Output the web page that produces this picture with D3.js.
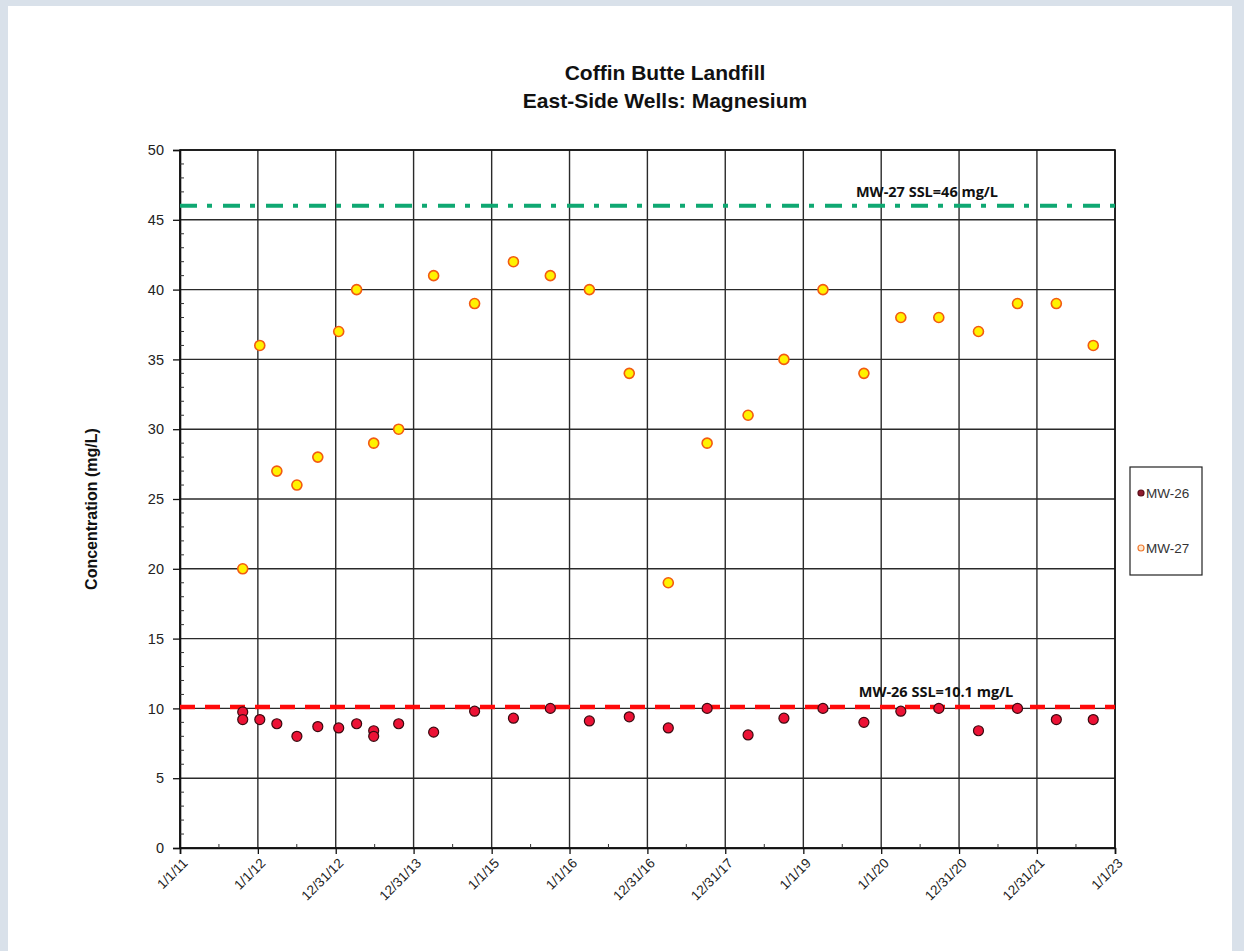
<!DOCTYPE html>
<html>
<head>
<meta charset="utf-8">
<script src="https://cdn.jsdelivr.net/npm/d3@7/dist/d3.min.js"></script>
<style>
  html, body { margin: 0; padding: 0; background: #d9e1ea; }
  svg { display: block; }
  text { font-family: "Liberation Sans", Arial, sans-serif; }
</style>
</head>
<body>
<script>
// Sampling dates shared by both wells
const sampleDates = [
  "2011-10-22", "2012-01-10", "2012-03-30", "2012-07-02", "2012-10-08",
  "2013-01-14", "2013-04-08", "2013-06-27", "2013-10-22", "2014-04-04",
  "2014-10-13", "2015-04-13", "2015-10-03", "2016-04-03", "2016-10-07",
  "2017-04-08", "2017-10-07", "2018-04-17", "2018-10-02", "2019-04-03",
  "2019-10-12", "2020-04-02", "2020-09-27", "2021-04-01", "2021-10-01",
  "2022-04-01", "2022-09-21"
];

// MW-27 magnesium (mg/L)
const mw27Values = [
  20, 36, 27, 26, 28, 37, 40, 29, 30, 41,
  39, 42, 41, 40, 34, 19, 29, 31, 35, 40,
  34, 38, 38, 37, 39, 39, 36
];

// MW-26 magnesium (mg/L); a few dates have duplicate samples
const mw26Dates = [
  "2011-10-22", "2011-10-22", "2012-01-10", "2012-03-30", "2012-07-02",
  "2012-10-08", "2013-01-14", "2013-04-08", "2013-06-27", "2013-06-27",
  "2013-10-22", "2014-04-04", "2014-10-13", "2015-04-13", "2015-10-03",
  "2016-04-03", "2016-10-07", "2017-04-08", "2017-10-07", "2018-04-17",
  "2018-10-02", "2019-04-03", "2019-10-12", "2020-04-02", "2020-09-27",
  "2021-04-01", "2021-10-01", "2022-04-01", "2022-09-21"
];
const mw26Values = [
  9.75, 9.2, 9.2, 8.9, 8.0,
  8.7, 8.6, 8.9, 8.4, 8.0,
  8.9, 8.3, 9.8, 9.3, 10.0,
  9.1, 9.4, 8.6, 10.0, 8.1,
  9.3, 10.0, 9.0, 9.8, 10.0,
  8.4, 10.0, 9.2, 9.2
];

// Screening levels
const ssl27 = 46;
const ssl26 = 10.1;

// Axis tick labels
const xTickLabels = [
  "1/1/11", "1/1/12", "12/31/12", "12/31/13", "1/1/15", "1/1/16", "12/31/16",
  "12/31/17", "1/1/19", "1/1/20", "12/31/20", "12/31/21", "1/1/23"
];
const yTicks = [0, 5, 10, 15, 20, 25, 30, 35, 40, 45, 50];

const W = 1244, H = 951;
const plot = { left: 180, right: 1115, top: 150, bottom: 848 };

const parseIso = d3.timeParse("%Y-%m-%d");
const parseTick = d3.timeParse("%m/%d/%y");
const xTickDates = xTickLabels.map(parseTick);

const x = d3.scaleTime()
  .domain([xTickDates[0], xTickDates[xTickDates.length - 1]])
  .range([plot.left, plot.right]);
const y = d3.scaleLinear().domain([0, 50]).range([plot.bottom, plot.top]);

const svg = d3.select("body").append("svg").attr("width", W).attr("height", H);

// white panel
svg.append("rect").attr("x", 8).attr("y", 6).attr("width", 1224).attr("height", H - 6)
  .attr("fill", "#ffffff");

// title
const title = svg.append("text").attr("text-anchor", "middle")
  .attr("font-weight", "bold").attr("font-size", 21).attr("fill", "#111");
title.append("tspan").attr("x", 665).attr("y", 80).text("Coffin Butte Landfill");
title.append("tspan").attr("x", 665).attr("y", 108).text("East-Side Wells: Magnesium");

// grid lines
const grid = svg.append("g").attr("stroke", "#2a2a2a").attr("stroke-width", 1.4);
grid.selectAll("line.h").data(yTicks).join("line")
  .attr("x1", plot.left).attr("x2", plot.right)
  .attr("y1", d => y(d)).attr("y2", d => y(d));
grid.selectAll("line.v").data(xTickDates).join("line")
  .attr("y1", plot.top).attr("y2", plot.bottom)
  .attr("x1", d => x(d)).attr("x2", d => x(d));

// plot frame
svg.append("rect").attr("x", plot.left).attr("y", plot.top)
  .attr("width", plot.right - plot.left).attr("height", plot.bottom - plot.top)
  .attr("fill", "none").attr("stroke", "#111").attr("stroke-width", 1.6);

// y axis: major ticks outside, minor ticks inside
const yAxis = d3.axisLeft(y).tickValues(yTicks).tickSize(7).tickPadding(9);
const gy = svg.append("g").attr("transform", `translate(${plot.left},0)`).call(yAxis);
gy.select(".domain").attr("stroke", "#111").attr("stroke-width", 1.6);
gy.selectAll(".tick line").attr("stroke", "#111").attr("stroke-width", 1.3);
gy.selectAll(".tick text").attr("font-size", 14.5).attr("fill", "#222")
  .style("font-family", "'Liberation Sans', Arial, sans-serif");
const yMinor = d3.range(0, 51).filter(v => v % 5 !== 0);
svg.append("g").selectAll("line").data(yMinor).join("line")
  .attr("x1", plot.left).attr("x2", plot.left + 4)
  .attr("y1", d => y(d)).attr("y2", d => y(d))
  .attr("stroke", "#333").attr("stroke-width", 1);

// x axis: major ticks outside, minor ticks at mid-interval inside
const xAxis = d3.axisBottom(x).tickValues(xTickDates).tickSize(6)
  .tickFormat((d, i) => xTickLabels[i]);
const gx = svg.append("g").attr("transform", `translate(0,${plot.bottom})`).call(xAxis);
gx.select(".domain").attr("stroke", "#111").attr("stroke-width", 1.6);
gx.selectAll(".tick line").attr("stroke", "#111").attr("stroke-width", 1.3);
gx.selectAll(".tick text")
  .attr("font-size", 13.5).attr("fill", "#222")
  .style("font-family", "'Liberation Sans', Arial, sans-serif")
  .attr("text-anchor", "end")
  .attr("dy", null)
  .attr("y", 0)
  .attr("transform", "translate(8,16) rotate(-45)");
const xMinor = d3.pairs(xTickDates).map(([a, b]) => new Date((+a + +b) / 2));
svg.append("g").selectAll("line").data(xMinor).join("line")
  .attr("x1", d => x(d)).attr("x2", d => x(d))
  .attr("y1", plot.bottom).attr("y2", plot.bottom - 4)
  .attr("stroke", "#333").attr("stroke-width", 1);

// y axis title
svg.append("text")
  .attr("transform", `translate(97,${(plot.top + plot.bottom) / 2 + 10}) rotate(-90)`)
  .attr("text-anchor", "middle").attr("font-weight", "bold").attr("font-size", 16)
  .attr("fill", "#111").text("Concentration (mg/L)");

// screening level lines
svg.append("line")
  .attr("x1", plot.left).attr("x2", plot.right)
  .attr("y1", y(ssl27)).attr("y2", y(ssl27))
  .attr("stroke", "#0fa872").attr("stroke-width", 4)
  .attr("stroke-dasharray", "17 10 5 11");
svg.append("text").attr("x", 927).attr("y", y(ssl27) - 9)
  .attr("text-anchor", "middle").attr("font-weight", "bold").attr("font-size", 14.5)
  .attr("fill", "#111").style("font-family", "'Open Sans', 'Liberation Sans', sans-serif")
  .text(`MW-27 SSL=${ssl27} mg/L`);

svg.append("line")
  .attr("x1", plot.left).attr("x2", plot.right)
  .attr("y1", y(ssl26)).attr("y2", y(ssl26))
  .attr("stroke", "#ff0a0a").attr("stroke-width", 4.5)
  .attr("stroke-dasharray", "15 10");
svg.append("text").attr("x", 936).attr("y", y(ssl26) - 10)
  .attr("text-anchor", "middle").attr("font-weight", "bold").attr("font-size", 14.5)
  .attr("fill", "#111").style("font-family", "'Open Sans', 'Liberation Sans', sans-serif")
  .text(`MW-26 SSL=${ssl26} mg/L`);

// data points
const mw27 = sampleDates.map((d, i) => ({ date: parseIso(d), value: mw27Values[i] }));
const mw26 = mw26Dates.map((d, i) => ({ date: parseIso(d), value: mw26Values[i] }));

svg.append("g").selectAll("circle").data(mw26).join("circle")
  .attr("cx", d => x(d.date)).attr("cy", d => y(d.value)).attr("r", 5)
  .attr("fill", "#ec1235").attr("stroke", "#3a0a10").attr("stroke-width", 1.2);

svg.append("g").selectAll("circle").data(mw27).join("circle")
  .attr("cx", d => x(d.date)).attr("cy", d => y(d.value)).attr("r", 5)
  .attr("fill", "#fff200").attr("stroke", "#f25a12").attr("stroke-width", 1.6);

// legend
const lg = svg.append("g");
lg.append("rect").attr("x", 1130).attr("y", 467).attr("width", 72).attr("height", 108)
  .attr("fill", "#fff").attr("stroke", "#222").attr("stroke-width", 1.2);
const legendItems = [
  { name: "MW-26", y: 493, fill: "#8e1a2c", stroke: "#5a0d18" },
  { name: "MW-27", y: 548, fill: "#fde8d0", stroke: "#f07a30" }
];
legendItems.forEach(it => {
  lg.append("circle").attr("cx", 1141).attr("cy", it.y).attr("r", 3)
    .attr("fill", it.fill).attr("stroke", it.stroke).attr("stroke-width", 1.2);
  lg.append("text").attr("x", 1146).attr("y", it.y + 5)
    .attr("font-size", 13.5).attr("fill", "#333").text(it.name);
});
</script>
</body>
</html>
